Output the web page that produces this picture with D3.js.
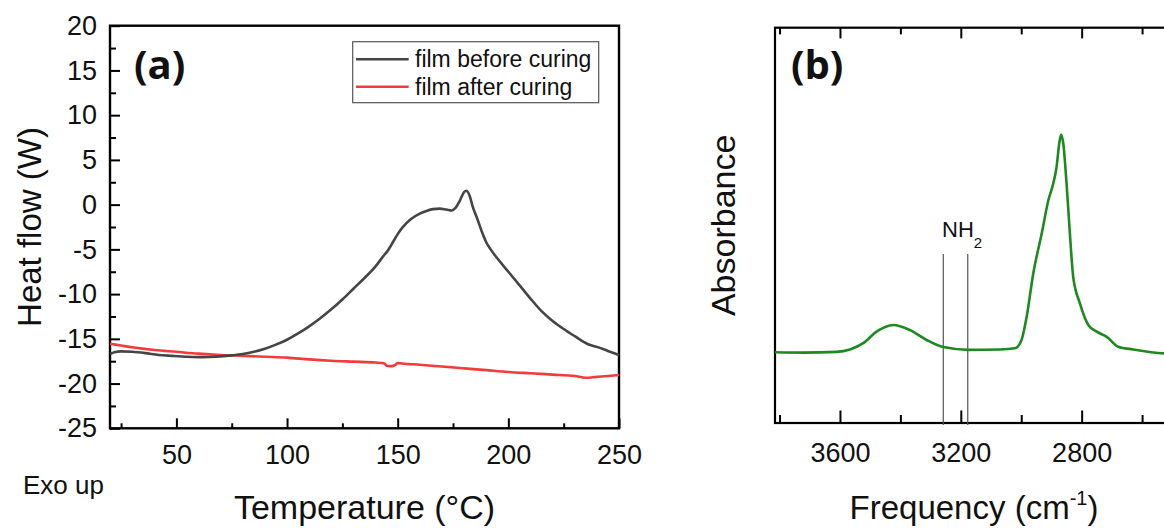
<!DOCTYPE html>
<html><head><meta charset="utf-8">
<script src="https://cdn.jsdelivr.net/npm/d3@7"></script>
<style>
body{margin:0;background:#fff;}
svg{display:block;background:#fff;}
text{font-family:"Liberation Sans",Arial,Helvetica,sans-serif;fill:#111;}
</style>
</head><body>
<svg id="chart" width="1164" height="529"></svg>
<script>
// ---------- Panel (a) data: DSC ----------
const tempBefore = [20,22,25,30,36,42,48,55,62,68,75,80,85,90,95,100,105,110,115,120,125,130,135,140,144,145.5,147,150,152,156,160,163,166,169,172,174.5,176,178,180,181,182.5,184,186,188,190,192,195,200,205,210,215,220,225,230,236,240,245,250];
const heatBefore = [-16.7,-16.5,-16.4,-16.45,-16.6,-16.8,-16.9,-17.0,-17.05,-17.0,-16.85,-16.7,-16.45,-16.1,-15.65,-15.1,-14.4,-13.6,-12.7,-11.7,-10.6,-9.4,-8.2,-6.9,-5.6,-5.15,-4.55,-3.3,-2.6,-1.6,-1.0,-0.7,-0.5,-0.45,-0.55,-0.65,-0.4,0.4,1.4,1.55,1.0,-0.3,-1.6,-3.0,-4.2,-5.0,-6.0,-7.5,-9.0,-10.5,-11.9,-13.0,-13.9,-14.7,-15.6,-15.9,-16.35,-16.8];
const tempAfter = [20,25,30,40,50,60,70,80,90,100,110,120,130,140,144,145,147,149,150,152,160,170,180,190,200,210,220,230,235,240,245,250];
const heatAfter = [-15.55,-15.75,-15.95,-16.25,-16.45,-16.65,-16.8,-16.9,-17.0,-17.1,-17.3,-17.45,-17.55,-17.65,-17.75,-18.0,-18.05,-17.9,-17.7,-17.75,-17.9,-18.1,-18.3,-18.5,-18.7,-18.85,-19.0,-19.15,-19.35,-19.25,-19.15,-19.05];
const seriesNamesA = ["film before curing","film after curing"];
const xTicksA = [50,100,150,200,250];
const xMinorA = [25,75,125,175,225];
const yTicksA = [20,15,10,5,0,-5,-10,-15,-20,-25];
const yMinorA = [17.5,12.5,7.5,2.5,-2.5,-7.5,-12.5,-17.5,-22.5];

// ---------- Panel (b) data: IR spectrum ----------
const freqB = [3815,3721,3611,3567,3523,3479,3424,3368,3313,3258,3175,3070,3021,2999,2982,2960,2932,2910,2894,2883,2874,2868,2861,2850,2839,2828,2806,2778,2750,2717,2679,2629,2527,2480];
const absB  = [0.179,0.178,0.180,0.186,0.202,0.231,0.248,0.235,0.210,0.192,0.185,0.186,0.189,0.210,0.269,0.379,0.480,0.564,0.606,0.648,0.708,0.729,0.708,0.606,0.480,0.370,0.303,0.248,0.231,0.218,0.193,0.186,0.176,0.175];
const xTicksB = [3600,3200,2800];
const xMinorB = [3800,3400,3000,2600];
const nh2Lines = [3258,3177];

const svg = d3.select("#chart");
const fmt = d => String(d);

// ================= Panel (a) =================
const ax = d3.scaleLinear().domain([20,250]).range([110,619]);
const ay = d3.scaleLinear().domain([-25,20]).range([428.3,25.7]);
const gA = svg.append("g");

gA.append("g").attr("transform",`translate(${ax(20)},0)`)
  .call(d3.axisLeft(ay).tickValues(yTicksA).tickSize(-10).tickSizeOuter(0).tickPadding(13).tickFormat(fmt))
  .call(g=>{g.select(".domain").remove();g.selectAll("line").attr("stroke","#000").attr("stroke-width",2);
            g.selectAll("text").attr("font-size",27).attr("fill","#111").attr("font-family","Liberation Sans, Arial, sans-serif");});
gA.append("g").attr("transform",`translate(${ax(20)},0)`)
  .call(d3.axisLeft(ay).tickValues(yMinorA).tickSize(-6).tickSizeOuter(0).tickFormat(""))
  .call(g=>{g.select(".domain").remove();g.selectAll("line").attr("stroke","#000").attr("stroke-width",2);});
gA.append("g").attr("transform",`translate(0,${ay(-25)})`)
  .call(d3.axisBottom(ax).tickValues(xTicksA).tickSize(-10).tickSizeOuter(0).tickPadding(17).tickFormat(fmt))
  .call(g=>{g.select(".domain").remove();g.selectAll("line").attr("stroke","#000").attr("stroke-width",2);
            g.selectAll("text").attr("font-size",27).attr("fill","#111").attr("font-family","Liberation Sans, Arial, sans-serif");});
gA.append("g").attr("transform",`translate(0,${ay(-25)})`)
  .call(d3.axisBottom(ax).tickValues(xMinorA).tickSize(-5).tickSizeOuter(0).tickFormat(""))
  .call(g=>{g.select(".domain").remove();g.selectAll("line").attr("stroke","#000").attr("stroke-width",2);});
gA.append("rect").attr("x",ax(20)).attr("y",ay(20)).attr("width",ax(250)-ax(20)).attr("height",ay(-25)-ay(20))
  .attr("fill","none").attr("stroke","#000").attr("stroke-width",2.4);

const lineA = d3.line().curve(d3.curveMonotoneX);
gA.append("path").attr("d",lineA(tempAfter.map((t,i)=>[ax(t),ay(heatAfter[i])])))
  .attr("fill","none").attr("stroke","#f23c3c").attr("stroke-width",2.6);
gA.append("path").attr("d",lineA(tempBefore.map((t,i)=>[ax(t),ay(heatBefore[i])])))
  .attr("fill","none").attr("stroke","#454545").attr("stroke-width",2.6);

const lg = gA.append("g");
lg.append("rect").attr("x",352.7).attr("y",41.7).attr("width",246).attr("height",61)
  .attr("fill","#fff").attr("stroke","#555").attr("stroke-width",1.2);
const legColors = ["#454545","#f23c3c"];
seriesNamesA.forEach((n,i)=>{
  const yy = 59.3 + i*27.4;
  lg.append("line").attr("x1",356).attr("x2",408.7).attr("y1",yy).attr("y2",yy)
    .attr("stroke",legColors[i]).attr("stroke-width",2.6);
  lg.append("text").attr("x",415).attr("y",yy).attr("dy","0.35em").attr("font-size",23).text(n);
});

gA.append("text").attr("x",134).attr("y",79).attr("font-size",40).attr("font-weight","bold")
  .style("font-family","'Open Sans','Liberation Sans',sans-serif").text("(a)");
gA.append("text").attr("x",364.5).attr("y",519).attr("text-anchor","middle").attr("font-size",34).text("Temperature (°C)");
gA.append("text").attr("transform",`translate(41,${(ay(20)+ay(-25))/2}) rotate(-90)`).attr("text-anchor","middle")
  .attr("font-size",33).text("Heat flow (W)");
gA.append("text").attr("x",23).attr("y",494).attr("font-size",26).text("Exo up");

// ================= Panel (b) =================
const bx = d3.scaleLinear().domain([3815,2400]).range([775,775+1415*0.30212]);
const by = d3.scaleLinear().domain([0,1]).range([423,27.7]);
const gB = svg.append("g");

gB.append("g").attr("transform",`translate(0,${by(0)})`)
  .call(d3.axisBottom(bx).tickValues(xTicksB).tickSize(-12.5).tickSizeOuter(0).tickPadding(20).tickFormat(fmt))
  .call(g=>{g.select(".domain").remove();g.selectAll("line").attr("stroke","#000").attr("stroke-width",2);
            g.selectAll("text").attr("font-size",27).attr("fill","#111").attr("font-family","Liberation Sans, Arial, sans-serif");});
gB.append("g").attr("transform",`translate(0,${by(0)})`)
  .call(d3.axisBottom(bx).tickValues(xMinorB).tickSize(-8).tickSizeOuter(0).tickFormat(""))
  .call(g=>{g.select(".domain").remove();g.selectAll("line").attr("stroke","#000").attr("stroke-width",2);});
gB.append("g").attr("transform",`translate(0,${by(1)})`)
  .call(d3.axisTop(bx).tickValues(xTicksB).tickSize(-10.7).tickSizeOuter(0).tickFormat(""))
  .call(g=>{g.select(".domain").remove();g.selectAll("line").attr("stroke","#000").attr("stroke-width",2);});
gB.append("g").attr("transform",`translate(0,${by(1)})`)
  .call(d3.axisTop(bx).tickValues(xMinorB).tickSize(-6.7).tickSizeOuter(0).tickFormat(""))
  .call(g=>{g.select(".domain").remove();g.selectAll("line").attr("stroke","#000").attr("stroke-width",2);});
gB.append("rect").attr("x",bx(3815)).attr("y",by(1)).attr("width",bx(2400)-bx(3815)).attr("height",by(0)-by(1))
  .attr("fill","none").attr("stroke","#000").attr("stroke-width",2.2);

nh2Lines.forEach(f=>{
  gB.append("line").attr("x1",bx(f)).attr("x2",bx(f)).attr("y1",254).attr("y2",by(0)+2)
    .attr("stroke","#555").attr("stroke-width",1.2);
});
const nh = gB.append("text").attr("x",942).attr("y",237).attr("font-size",22).attr("fill","#222");
nh.append("tspan").text("NH");
nh.append("tspan").attr("font-size",15).attr("dy",11).text("2");

const lineB = d3.line().curve(d3.curveMonotoneX);
gB.append("path").attr("d",lineB(freqB.map((f,i)=>[bx(f),by(absB[i])])))
  .attr("fill","none").attr("stroke","#1d8a1d").attr("stroke-width",2.6);

gB.append("text").attr("x",791).attr("y",79).attr("font-size",40).attr("font-weight","bold")
  .style("font-family","'Open Sans','Liberation Sans',sans-serif").text("(b)");
gB.append("text").attr("transform",`translate(735,${(by(0)+by(1))/2}) rotate(-90)`).attr("text-anchor","middle")
  .attr("font-size",34).text("Absorbance");
const fq = gB.append("text").attr("x",974).attr("y",519).attr("text-anchor","middle").attr("font-size",33);
fq.append("tspan").text("Frequency (cm");
fq.append("tspan").attr("font-size",20).attr("dy",-14).text("-1");
fq.append("tspan").attr("dy",14).text(")");
</script>
</body></html>
